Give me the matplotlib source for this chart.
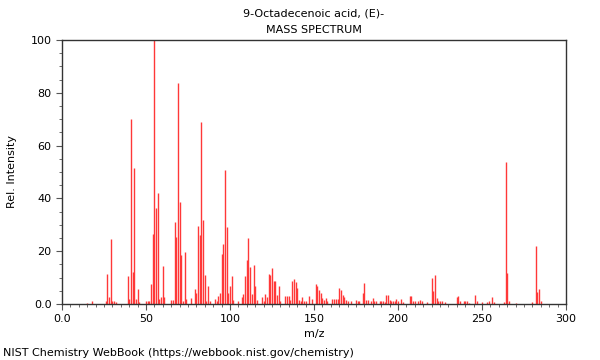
import numpy as np
import matplotlib
matplotlib.use('Agg')
from matplotlib import pyplot as plt
from matplotlib.ticker import MultipleLocator, FuncFormatter

# peak list (m/z, relative intensity)
mz = [15, 18, 26, 27, 28, 29, 30, 31, 32,
      39, 40, 41, 42, 43, 44, 45, 46, 50, 51, 52, 53, 54, 55, 56, 57, 58, 59, 60, 61,
      65, 66, 67, 68, 69, 70, 71, 72, 73, 74, 77, 79, 80, 81, 82, 83, 84, 85, 86, 87, 88,
      91, 92, 93, 94, 95, 96, 97, 98, 99, 100, 101, 102, 105, 107, 108, 109, 110, 111,
      112, 113, 114, 115, 116, 119, 120, 121, 122, 123, 124, 125, 126, 127, 128, 129, 130,
      133, 134, 135, 136, 137, 138, 139, 140, 141, 142, 143, 144, 145, 147, 149,
      151, 152, 153, 154, 155, 156, 157, 158, 161, 162, 163, 164, 165, 166, 167, 168, 169, 170,
      172, 175, 176, 177, 179, 180, 181, 182, 184, 185, 186, 187, 189, 190, 191, 192,
      193, 194, 195, 196, 197, 198, 199, 200, 202, 203, 207, 208, 209, 210, 212, 213, 214,
      217, 220, 221, 222, 223, 224, 225, 226, 228, 235, 236, 237, 239, 240, 241, 242,
      246, 247, 250, 253, 254, 256, 257, 263, 264, 265, 266, 270, 280, 282, 283, 284, 285]
intensity = [0.5, 1.0, 1.0, 11.5, 2.8, 24.5, 1.0, 1.0, 0.8,
             10.5, 2.0, 70.0, 12.0, 51.5, 2.0, 5.5, 0.6, 1.0, 1.0, 1.0, 7.5, 26.4, 100.0, 36.5, 42.0, 2.0, 2.8, 14.4, 2.8,
             1.7, 1.7, 31.0, 25.5, 83.6, 38.6, 18.6, 1.0, 19.6, 2.0, 2.2, 5.5, 4.0, 29.7, 26.1, 69.0, 31.8, 11.0, 1.0, 7.0, 1.0,
             2.0, 1.0, 3.0, 4.2, 19.0, 22.7, 50.8, 29.3, 4.3, 7.0, 10.6, 1.5, 1.2, 2.8, 3.7, 10.6, 16.8, 24.9,
             14.0, 3.8, 14.8, 7.0, 1.5, 2.8, 1.0, 3.6, 2.5, 11.2, 11.0, 13.5, 8.8, 8.8, 3.5, 6.8, 1.0,
             3.2, 3.2, 3.2, 1.7, 8.6, 9.6, 8.3, 6.2, 1.7, 1.0, 2.8, 1.2, 1.0, 3.0, 2.0,
             7.4, 7.0, 5.4, 4.0, 2.2, 1.5, 2.2, 1.0, 1.8, 1.8, 1.8, 1.8, 6.0, 5.4, 3.3, 2.5, 1.6, 1.0,
             1.0, 1.5, 1.2, 1.0, 4.1, 7.8, 1.5, 1.5, 1.0, 2.3, 1.2, 1.0, 1.0, 1.0, 1.0, 0.7,
             3.4, 3.4, 1.5, 1.0, 1.0, 1.0, 2.0, 1.0, 2.0, 0.7, 2.9, 2.9, 1.2, 1.0, 1.0, 1.5, 1.0,
             0.6, 9.8, 4.9, 10.8, 2.3, 1.0, 1.0, 1.0, 0.6, 2.8, 3.0, 1.0, 1.0, 1.0, 1.0, 0.5,
             3.4, 1.0, 0.7, 0.7, 1.0, 2.8, 0.7, 0.6, 53.8, 11.9, 1.2, 0.5, 0.8, 22.0, 4.4, 5.6, 1.3]

xticks = [0, 50, 100, 150, 200, 250, 300]
yticks = [0, 20, 40, 60, 80, 100]

fig = plt.figure(figsize=(6, 3.6), dpi=100)
ax = fig.add_axes([62/600, 1 - 304/360, 504/600, 264/360])

ax.vlines(mz, 0, intensity, color='#ff3838', lw=1.0)

ax.set_xlim(0, 300)
ax.set_ylim(0, 100)
ax.set_xticks(xticks)
ax.set_yticks(yticks)
ax.xaxis.set_minor_locator(MultipleLocator(5))
ax.yaxis.set_minor_locator(MultipleLocator(5))
fmt = FuncFormatter(lambda v, p: '0.0' if v == 0 else '%d' % v)
ax.xaxis.set_major_formatter(fmt)
ax.yaxis.set_major_formatter(fmt)
ax.tick_params(which='major', direction='out', length=4, labelsize=8, color='#555555')
ax.tick_params(which='minor', direction='out', length=2, color='#555555')
for s in ax.spines.values():
    s.set_color('#333333')
    s.set_linewidth(1)

ax.set_xlabel('m/z', fontsize=8, labelpad=3)
ax.set_ylabel('Rel. Intensity', fontsize=8, labelpad=10)

fig.text(314/600, 1 - 14/360, '9-Octadecenoic acid, (E)-', ha='center', va='center', fontsize=8)
fig.text(314/600, 1 - 30/360, 'MASS SPECTRUM', ha='center', va='center', fontsize=8)
fig.text(3/600, 1 - 353/360, 'NIST Chemistry WebBook (https://webbook.nist.gov/chemistry)',
         ha='left', va='center', fontsize=8)

fig.savefig('out.png', dpi=100)
